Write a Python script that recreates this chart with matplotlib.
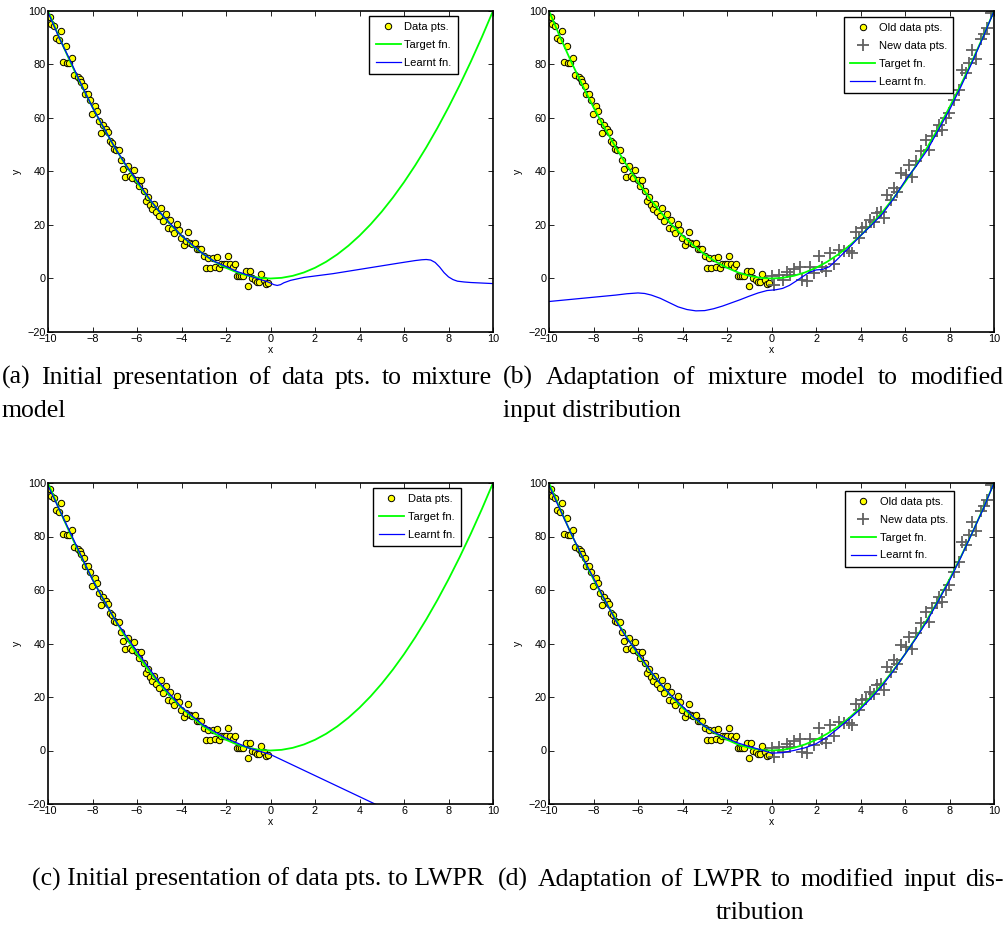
import matplotlib
matplotlib.use("Agg")
import matplotlib.pyplot as plt

# ---------------- data ----------------
# Target function samples (y = x^2 read at half-unit steps)
target_x = [-10, -9.5, -9, -8.5, -8, -7.5, -7, -6.5, -6, -5.5, -5, -4.5, -4, -3.5, -3,
            -2.5, -2, -1.5, -1, -0.5, 0, 0.5, 1, 1.5, 2, 2.5, 3, 3.5, 4, 4.5, 5, 5.5,
            6, 6.5, 7, 7.5, 8, 8.5, 9, 9.5, 10]
target_y = [100, 90.25, 81, 72.25, 64, 56.25, 49, 42.25, 36, 30.25, 25, 20.25, 16, 12.25,
            9, 6.25, 4, 2.25, 1, 0.25, 0, 0.25, 1, 2.25, 4, 6.25, 9, 12.25, 16, 20.25,
            25, 30.25, 36, 42.25, 49, 56.25, 64, 72.25, 81, 90.25, 100]

# Old data points (x in [-10, 0])
old_x = [-9.93, -9.85, -9.75, -9.42, -9.64, -9.52, -9.21, -9.33, -9.15, -9.04,
         -8.92, -8.82, -8.67, -8.58, -8.50, -8.40, -8.32, -8.22, -8.13, -8.02,
         -7.90, -7.80, -7.72, -7.62, -7.53, -7.41, -7.32, -7.23, -7.12, -7.02,
         -6.93, -6.82, -6.72, -6.63, -6.52, -6.40, -6.30, -6.21, -6.12, -6.00,
         -5.93, -5.82, -5.70, -5.61, -5.51, -5.40, -5.31, -5.22, -5.13, -5.03,
         -4.92, -4.82, -4.71, -4.61, -4.50, -4.41, -4.32, -4.20, -4.11, -4.01,
         -3.90, -3.80, -3.71, -3.60, -3.51, -3.41, -3.30, -3.21, -3.11, -3.00,
         -2.90, -2.79, -2.70, -2.60, -2.51, -2.40, -2.31, -2.21, -2.10, -2.01,
         -1.91, -1.81, -1.70, -1.61, -1.51, -1.42, -1.33, -1.22, -1.12, -1.03,
         -0.91, -0.82, -0.71, -0.61, -0.52, -0.41, -0.31, -0.22, -0.11]
old_y = [97.9, 95.3, 94.4, 92.4, 89.8, 89.1, 86.9, 80.9, 80.6, 80.4,
         82.3, 75.9, 75.4, 74.4, 73.4, 72.1, 69.0, 69.0, 66.6, 61.6,
         64.6, 62.5, 58.8, 54.4, 57.3, 55.9, 54.9, 51.3, 50.6, 48.4,
         48.1, 48.1, 44.4, 40.9, 38.1, 41.9, 38.4, 37.5, 40.4, 36.9,
         34.4, 36.9, 32.8, 29.0, 30.6, 27.3, 25.9, 27.9, 24.8, 23.4,
         26.3, 21.5, 24.1, 19.0, 21.9, 18.4, 16.9, 20.4, 18.1, 15.0,
         12.5, 14.1, 17.4, 13.1, 12.8, 13.1, 10.9, 10.9, 10.9, 8.4,
         4.0, 7.8, 4.0, 7.5, 4.4, 8.1, 4.0, 5.3, 5.3, 5.3,
         8.5, 5.6, 4.4, 5.6, 0.9, 0.9, 0.9, 0.9, 2.8, -2.9,
         2.9, 0.0, -0.4, -1.3, -1.3, 1.6, -0.6, -2.1, -1.6]

# New data points (x in [0, 10])
new_x = [0.03, 0.13, 0.33, 0.52, 0.70, 0.85, 1.00, 1.30, 1.38, 1.60,
         1.75, 1.90, 2.13, 2.28, 2.43, 2.65, 2.80, 3.03, 3.25, 3.48,
         3.63, 3.78, 3.93, 4.08, 4.23, 4.42, 4.60, 4.75, 4.90, 5.05,
         5.20, 5.35, 5.50, 5.65, 5.80, 6.03, 6.18, 6.33, 6.48, 6.70,
         6.93, 7.08, 7.23, 7.45, 7.53, 7.68, 7.83, 7.98, 8.20, 8.43,
         8.58, 8.73, 8.88, 9.03, 9.18, 9.40, 9.55, 9.70, 9.85, 9.93]
new_y = [0.9, -2.5, 1.3, -0.4, 2.5, 1.3, 3.4, 4.4, -0.6, -0.9,
         4.4, 2.1, 8.4, 4.4, 2.9, 9.4, 5.6, 10.6, 10.4, 10.4,
         9.6, 17.3, 15.0, 18.8, 19.4, 21.9, 21.3, 24.4, 25.0, 22.5,
         31.3, 29.4, 33.8, 32.5, 39.4, 38.8, 42.5, 38.1, 43.8, 47.5,
         51.9, 48.1, 53.1, 55.0, 57.5, 55.6, 60.0, 61.9, 66.9, 70.6,
         78.1, 76.9, 80.6, 85.6, 81.9, 89.4, 91.3, 93.8, 99.4, 100.0]

# Learnt functions
learnt_a_x = [-10, -9.5, -9, -8.5, -8, -7.5, -7, -6.5, -6, -5.5, -5, -4.5, -4, -3.5,
              -3, -2.5, -2, -1.5, -1, -0.5, -0.2, 0, 0.15, 0.3, 0.45, 0.6, 0.9, 1.5,
              2.8, 4.3, 5.8, 6.5, 6.8, 7.0, 7.2, 7.4, 7.6, 7.8, 8.0, 8.2, 8.4, 8.7,
              9.0, 10]
learnt_a_y = [99.5, 90.0, 81.5, 72.5, 64.0, 56.5, 49.0, 42.5, 36.5, 30.5, 25.0, 20.5,
              16.0, 12.5, 9.0, 6.3, 4.5, 2.6, 1.2, -0.3, -1.0, -1.7, -2.3, -2.6,
              -2.3, -1.6, -0.7, 0.4, 1.8, 3.8, 5.8, 6.7, 7.0, 7.1, 6.9, 6.0, 4.3,
              2.2, 0.6, -0.4, -1.0, -1.3, -1.5, -1.9]

learnt_b_x = [-10, -9, -8, -7, -6.5, -6.0, -5.7, -5.4, -5.0, -4.6, -4.2, -3.8, -3.4,
              -3.0, -2.6, -2.2, -1.8, -1.4, -1.0, -0.6, -0.2, 0.2, 0.5, 0.8, 1.1, 1.4,
              1.7, 2.0, 2.3, 2.6, 2.9, 3.2, 3.6, 4.0, 4.5, 5.0, 5.5, 6.0, 6.5, 7.0,
              7.5, 8.0, 8.5, 9.0, 9.5, 10]
learnt_b_y = [-8.6, -7.8, -7.0, -6.2, -5.7, -5.4, -5.6, -6.2, -7.4, -9.0, -10.6,
              -11.6, -12.1, -12.0, -11.3, -10.3, -9.1, -7.9, -6.6, -5.4, -4.5, -4.2,
              -3.7, -2.6, -1.0, 0.7, 2.3, 3.2, 3.4, 4.4, 6.7, 9.2, 12.5, 16.0, 20.0,
              24.3, 30.0, 36.5, 42.0, 48.0, 55.5, 63.0, 71.5, 80.5, 90.0, 100]

learnt_c_x = [-10, -9, -8, -7, -6, -5, -4, -3, -2, -1, 0, 10]
learnt_c_y = [99.0, 81.5, 63.8, 49.0, 37.0, 25.5, 16.2, 9.4, 4.6, 1.0, -1.5, -40.9]

learnt_d_x = [-10, -9.5, -9, -8.5, -8, -7.5, -7, -6.5, -6, -5.5, -5, -4.5, -4, -3.5,
              -3, -2.5, -2, -1.5, -1, -0.5, 0, 0.5, 1, 1.5, 2, 2.5, 3, 3.5, 4, 4.5,
              5, 5.5, 6, 6.5, 7, 7.5, 8, 8.5, 9, 9.5, 10]
learnt_d_y = [99.0, 90.0, 81.0, 72.5, 64.5, 56.5, 48.5, 42.0, 36.5, 30.5, 25.0, 20.5,
              16.5, 12.5, 9.0, 6.5, 4.5, 2.8, 1.5, 0.3, -1.0, -0.8, 0.0, 1.0, 2.5,
              5.0, 8.3, 11.8, 15.5, 19.8, 24.5, 30.0, 36.0, 42.0, 48.5, 56.0, 63.5,
              72.0, 81.0, 90.0, 100]

xticks = [-10, -8, -6, -4, -2, 0, 2, 4, 6, 8, 10]
yticks = [-20, 0, 20, 40, 60, 80, 100]

captions = {
    "a": ["(a) Initial presentation of data pts. to mixture", "model"],
    "b": ["(b) Adaptation of mixture model to modified", "input distribution"],
    "c": ["(c) Initial presentation of data pts. to LWPR"],
    "d": ["(d) Adaptation of LWPR to modified input dis-", "tribution"],
}

# ---------------- figure ----------------
W, H = 1006, 931
fig = plt.figure(figsize=(W / 100, H / 100), dpi=100)
renderer = fig.canvas.get_renderer()

TICKFONT = "Liberation Sans"
GREEN = (0.0, 1.0, 0.0)
BLUE = (0.0, 0.0, 1.0)
GRAY = (0.38, 0.38, 0.38)


def make_axes(px_left, px_top):
    ax = fig.add_axes([px_left / W, 1 - (px_top + 321) / H, 445 / W, 321 / H])
    ax.set_xlim(-10, 10)
    ax.set_ylim(-20, 100)
    ax.set_xticks(xticks)
    ax.set_yticks(yticks)
    ax.set_xticklabels([str(t).replace("-", "\u2212") for t in xticks], family=TICKFONT, fontsize=7.8)
    ax.set_yticklabels([str(t).replace("-", "\u2212") for t in yticks], family=TICKFONT, fontsize=7.8)
    ax.tick_params(direction="in", length=3.5, width=0.6, top=True, right=True, pad=1.5)
    for s in ax.spines.values():
        s.set_linewidth(1.2)
    ax.set_xlabel("x", family=TICKFONT, fontsize=7.5, labelpad=1)
    ax.set_ylabel("y", family=TICKFONT, fontsize=7.5, labelpad=4)
    return ax


def finish_legend(ax, ax_x, ax_y):
    leg = ax.legend(loc="upper right", bbox_to_anchor=(ax_x, ax_y), borderaxespad=0,
                    prop={"family": TICKFONT, "size": 8}, fancybox=False, framealpha=1,
                    edgecolor="black", handlelength=2.3, labelspacing=0.7,
                    handletextpad=0.3, borderpad=0.55)
    leg.get_frame().set_linewidth(1.0)


panels = [
    ("a", 48, 11, False, learnt_a_x, learnt_a_y, (0.921, 0.984)),
    ("b", 549, 11, True, learnt_b_x, learnt_b_y, (0.908, 0.981)),
    ("c", 48, 483, False, learnt_c_x, learnt_c_y, (0.928, 0.984)),
    ("d", 549, 483, True, learnt_d_x, learnt_d_y, (0.910, 0.975)),
]

for key, pl, pt, has_new, lx, ly, legpos in panels:
    ax = make_axes(pl, pt)
    ax.plot(old_x, old_y, "o", ms=4.6, mfc=(1, 1, 0), mec="black", mew=0.7,
            label="Old data pts." if has_new else "Data pts.")
    if has_new:
        ax.plot(new_x, new_y, "+", ms=8, mew=1.3, color=GRAY, label="New data pts.")
    ax.plot(target_x, target_y, color=GREEN, lw=1.3, label="Target fn.")
    ax.plot(lx, ly, color=BLUE, lw=0.9, label="Learnt fn.")
    finish_legend(ax, *legpos)

# ---------------- captions ----------------
CAPFONT = "Liberation Serif"
CAPSIZE = 18.5


def justify_line(text, x0, x1, ybase):
    words = text.split(" ")
    ts = [fig.text(0, 1 - ybase / H, w, fontsize=CAPSIZE, family=CAPFONT,
                   va="baseline", ha="left") for w in words]
    widths = [t.get_window_extent(renderer).width for t in ts]
    gap = (x1 - x0 - sum(widths)) / max(len(words) - 1, 1)
    x = x0
    for t, w in zip(ts, widths):
        t.set_x(x / W)
        x += w + gap


def left_line(text, x0, ybase):
    fig.text(x0 / W, 1 - ybase / H, text, fontsize=CAPSIZE, family=CAPFONT,
             va="baseline", ha="left")


def center_line(text, xc, ybase):
    fig.text(xc / W, 1 - ybase / H, text, fontsize=CAPSIZE, family=CAPFONT,
             va="baseline", ha="center")


justify_line(captions["a"][0], 2, 492, 384)
left_line(captions["a"][1], 2, 417)
justify_line(captions["b"][0], 503, 1004, 384)
left_line(captions["b"][1], 503, 417)
center_line(captions["c"][0], 258, 886)
justify_line(captions["d"][0], 498, 1004, 886)
center_line(captions["d"][1], 760, 919)

fig.savefig("out.png", dpi=100)
